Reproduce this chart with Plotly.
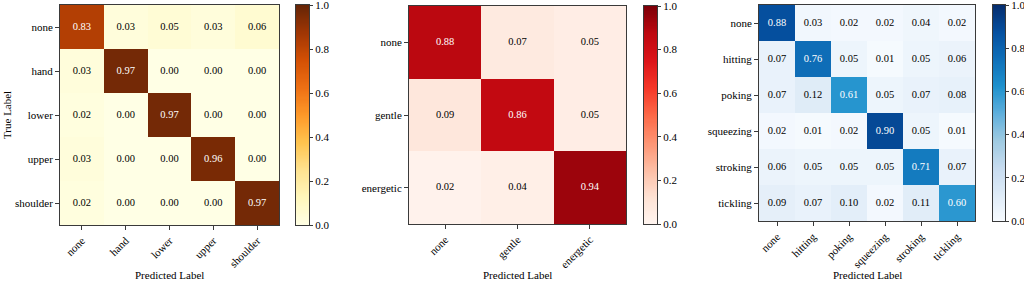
import plotly.graph_objects as go

# ---------- data ----------
loc_labels = ["none", "hand", "lower", "upper", "shoulder"]
loc_values = [
    [0.83, 0.03, 0.05, 0.03, 0.06],
    [0.03, 0.97, 0.00, 0.00, 0.00],
    [0.02, 0.00, 0.97, 0.00, 0.00],
    [0.03, 0.00, 0.00, 0.96, 0.00],
    [0.02, 0.00, 0.00, 0.00, 0.97],
]

int_labels = ["none", "gentle", "energetic"]
int_values = [
    [0.88, 0.07, 0.05],
    [0.09, 0.86, 0.05],
    [0.02, 0.04, 0.94],
]

ges_labels = ["none", "hitting", "poking", "squeezing", "stroking", "tickling"]
ges_values = [
    [0.88, 0.03, 0.02, 0.02, 0.04, 0.02],
    [0.07, 0.76, 0.05, 0.01, 0.05, 0.06],
    [0.07, 0.12, 0.61, 0.05, 0.07, 0.08],
    [0.02, 0.01, 0.02, 0.90, 0.05, 0.01],
    [0.06, 0.05, 0.05, 0.05, 0.71, 0.07],
    [0.09, 0.07, 0.10, 0.02, 0.11, 0.60],
]

colorbar_ticks = [0.0, 0.2, 0.4, 0.6, 0.8, 1.0]

# ---------- colour scales (saturated variants seen in the reference) ----------
def scale(cols):
    k = len(cols) - 1
    return [[j / k, f"rgb{c}"] for j, c in enumerate(cols)]

YLORBR = scale([(255, 255, 229), (255, 247, 188), (254, 227, 145), (254, 196, 79),
                (254, 153, 41), (238, 112, 20), (212, 80, 4), (160, 54, 4), (102, 37, 6)])
REDS = scale([(255, 245, 240), (254, 226, 212), (253, 190, 165), (253, 148, 115),
              (252, 105, 72), (245, 55, 40), (220, 20, 25), (190, 8, 16), (125, 0, 8)])
BLUES = scale([(247, 251, 255), (222, 235, 247), (198, 219, 239), (158, 202, 225),
               (95, 175, 220), (30, 145, 205), (15, 112, 185), (5, 80, 160), (5, 45, 110)])

# ---------- layout geometry (pixels) ----------
W, H = 1024, 282
FONT = "Liberation Serif"
EDGE = "#3a3a3a"

panels = [
    dict(labels=loc_labels, z=loc_values, cmap=YLORBR, px=(60, 279), py=(5, 225), cb=(296, 309)),
    dict(labels=int_labels, z=int_values, cmap=REDS, px=(409, 626), py=(6, 224), cb=(644, 657)),
    dict(labels=ges_labels, z=ges_values, cmap=BLUES, px=(759, 975), py=(5, 221), cb=(993, 1005)),
]

# colour ramp used to paint each colour bar (a gradient, not data)
ramp = [k / 200 for k in range(201)]

fig = go.Figure()

axis_common = dict(
    showline=True, mirror=True, linecolor=EDGE, linewidth=1,
    ticks="outside", tickcolor=EDGE, showgrid=False,
    zeroline=False, tickfont=dict(family=FONT, size=11, color="black"),
    automargin=False,
)

for i, p in enumerate(panels):
    n = 2 * i + 1      # heatmap axes
    m = 2 * i + 2      # colour bar axes
    xa, ya = ("x" if n == 1 else f"x{n}"), ("y" if n == 1 else f"y{n}")
    xb, yb = f"x{m}", f"y{m}"
    labels = p["labels"]
    z = p["z"]
    top, bot = p["py"]
    x0, x1 = p["px"]
    c0, c1 = p["cb"]

    fig.add_trace(go.Heatmap(
        z=z, x=labels, y=labels, xaxis=xa, yaxis=ya,
        colorscale=p["cmap"], zmin=0, zmax=1, showscale=False, hoverinfo="skip",
    ))
    xs, ys, ts, cs = [], [], [], []
    for r, row in enumerate(z):
        for c, v in enumerate(row):
            xs.append(labels[c]); ys.append(labels[r])
            ts.append(f"{v:.2f}")
            cs.append("white" if v > 0.5 else "black")
    fig.add_trace(go.Scatter(
        x=xs, y=ys, xaxis=xa, yaxis=ya, mode="text", text=ts,
        textfont=dict(family=FONT, size=10.5, color=cs),
        hoverinfo="skip", showlegend=False,
    ))

    # colour bar
    fig.add_trace(go.Heatmap(
        z=[[v] for v in ramp], x=[0], y=ramp, xaxis=xb, yaxis=yb,
        colorscale=p["cmap"], zmin=0, zmax=1, showscale=False,
        zsmooth="best", hoverinfo="skip",
    ))

    ydom = [1 - bot / H, 1 - top / H]
    fig.update_layout(**{
        ("xaxis" if n == 1 else f"xaxis{n}"): dict(
            domain=[x0 / W, x1 / W], anchor=ya, tickangle=-45, ticklen=4,
            range=[-0.5, len(labels) - 0.5], **axis_common),
        ("yaxis" if n == 1 else f"yaxis{n}"): dict(
            domain=ydom, anchor=xa, ticklen=4,
            range=[len(labels) - 0.5, -0.5], **axis_common),
        f"xaxis{m}": dict(
            domain=[c0 / W, c1 / W], anchor=yb, range=[-0.5, 0.5],
            showticklabels=False, **{**axis_common, "ticks": ""}),
        f"yaxis{m}": dict(
            domain=ydom, anchor=xb, side="right", range=[0, 1], ticklen=3,
            tickmode="array", tickvals=colorbar_ticks, ticklabeloverflow="allow",
            ticktext=[f"{t:.1f}" for t in colorbar_ticks], **axis_common),
    })
    fig.add_annotation(
        text="Predicted Label", xref="paper", yref="paper",
        x=(x0 + x1) / 2 / W, y=1 - 275 / H, xanchor="center", yanchor="middle",
        showarrow=False, font=dict(family=FONT, size=11, color="black"),
    )

fig.add_annotation(
    text="True Label", xref="paper", yref="paper", textangle=-90,
    x=7 / W, y=1 - 115 / H, xanchor="center", yanchor="middle",
    showarrow=False, font=dict(family=FONT, size=11, color="black"),
)

fig.update_layout(
    width=W, height=H, margin=dict(l=0, r=0, t=0, b=0, pad=0, autoexpand=False),
    paper_bgcolor="white", plot_bgcolor="white", showlegend=False,
)

fig.write_html(
    "out.html",
    config={"displayModeBar": False},
    post_script="document.body.style.margin='0';document.body.style.overflow='hidden';",
)
